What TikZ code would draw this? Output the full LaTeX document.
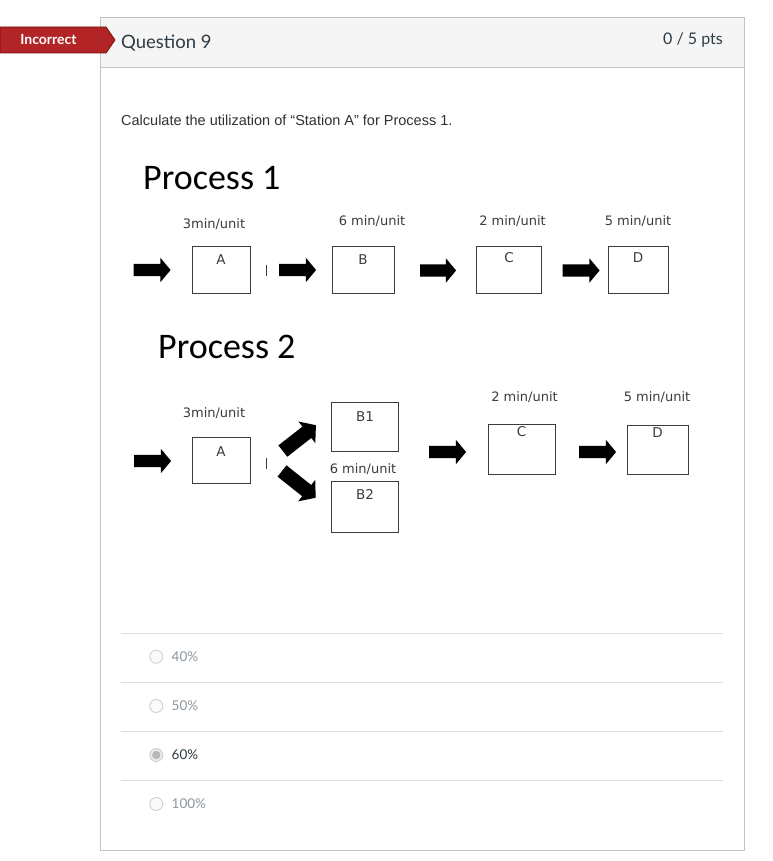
\documentclass[tikz,border=0pt]{standalone}
\usepackage{fontspec}
\setmainfont{Lato}
\newfontfamily\arialf{Liberation Sans}
\newfontfamily\calib{Carlito}
\newfontfamily\dvs{DejaVu Sans}
\usetikzlibrary{shapes.arrows}
\definecolor{tagred}{RGB}{178,36,38}
\definecolor{tagdark}{RGB}{115,18,18}
\definecolor{hdrbg}{RGB}{245,245,245}
\definecolor{panelline}{RGB}{190,196,200}
\definecolor{canvastext}{RGB}{45,59,69}
\definecolor{qtextcol}{RGB}{45,50,55}
\definecolor{sepline}{RGB}{222,222,222}
\definecolor{optgray}{RGB}{140,150,158}
\definecolor{boxline}{RGB}{60,60,60}
\definecolor{lbltext}{RGB}{60,60,60}
\definecolor{radioline}{RGB}{205,205,205}
\definecolor{radiofill}{RGB}{250,250,250}
\definecolor{radiosel}{RGB}{235,235,235}
\definecolor{radiodot}{RGB}{185,185,185}
\tikzset{
  blockarrow/.style={single arrow, fill=black, draw=none, minimum height=#1,
    minimum width=0pt, inner xsep=0pt, inner ysep=6pt,
    single arrow head extend=6pt, single arrow head indent=0pt,
    single arrow tip angle=100},
  diagarrow/.style={blockarrow=#1, inner ysep=7pt, single arrow head extend=6.5pt},
  stationbox/.style={draw=boxline, line width=0.9pt, inner sep=0pt},
  letter/.style={anchor=north, inner sep=0pt, text=lbltext, font=\dvs\fontsize{13.5}{15}\selectfont},
  ratelbl/.style={inner sep=0pt, text=lbltext, font=\dvs\fontsize{13}{15}\selectfont},
  proctitle/.style={anchor=west, inner sep=0pt, font=\calib\fontsize{36}{42}\selectfont},
  tick/.style={draw=boxline, line width=0.8pt},
  sep/.style={draw=sepline, line width=0.9pt},
  radio/.style={circle, draw=radioline, fill=radiofill, line width=0.8pt, minimum size=13pt, inner sep=0pt},
  optlbl/.style={anchor=west, inner sep=0pt, text=optgray, font=\fontsize{13.5}{16}\selectfont},
}
\begin{document}
\begin{tikzpicture}[x=1pt,y=-1pt]
\useasboundingbox (0,0) rectangle (772,861);
\fill[white] (0,0) rectangle (772,861);
% panel
\fill[hdrbg] (100,17) rectangle (744,67);
\draw[panelline, line width=0.9pt] (100,17) rectangle (744,850);
\draw[panelline, line width=0.9pt] (100,67) -- (744,67);
% tag
\draw[tagdark, fill=tagred, line width=0.8pt] (0,27) -- (106,27) -- (115,40) -- (106,53) -- (0,53) -- cycle;
\node[text=white, font=\bfseries\fontsize{14}{16}\selectfont, inner sep=0pt] (tag) at (48.5,39.5) {Incorrect};
\node[anchor=west, inner sep=0pt, text=canvastext, font=\fontsize{18.5}{22}\selectfont] (qtitle) at (121,43) {Question 9};
\node[anchor=east, inner sep=0pt, text=canvastext, font=\fontsize{16}{19}\selectfont] (pts) at (723,40) {0 / 5 pts};
\node[anchor=west, inner sep=0pt, text=qtextcol, font=\arialf\fontsize{14.5}{17}\selectfont] (qtext) at (121,120) {Calculate the utilization of “Station A” for Process 1.};

% Process 1
\node[proctitle] (p1) at (143,178) {Process 1};
\node[ratelbl] (r1a) at (214,224) {3min/unit};
\node[ratelbl] (r1b) at (372,221) {6 min/unit};
\node[ratelbl] (r1c) at (512.5,221) {2 min/unit};
\node[ratelbl] (r1d) at (638,221) {5 min/unit};
\node[stationbox, minimum width=58pt, minimum height=47pt] (a1) at (221,270) {};
\node[stationbox, minimum width=62pt, minimum height=47pt] (b1) at (363,270) {};
\node[stationbox, minimum width=65pt, minimum height=47pt] (c1) at (509,270) {};
\node[stationbox, minimum width=60pt, minimum height=47pt] (d1) at (638,270) {};
\node[letter, yshift=-8.5pt] at (a1.north) {A};
\node[letter, yshift=-8.5pt] at (b1.north) {B};
\node[letter, yshift=-6.5pt] at (c1.north) {C};
\node[letter, yshift=-6.5pt] at (d1.north) {D};
\node[blockarrow=37pt] (ar1) at (149.5,270) {};
\node[blockarrow=37pt] (ar2) at (295,270) {};
\node[blockarrow=36pt] (ar3) at (435.5,270.5) {};
\node[blockarrow=37pt] (ar4) at (578.5,270.5) {};
\coordinate (t1a) at (266,265);
\coordinate (t1b) at (266,276);
\draw[tick] (t1a) -- (t1b);

% Process 2
\node[proctitle] (p2) at (158,347) {Process 2};
\node[ratelbl] (r2a) at (214,413.5) {3min/unit};
\node[ratelbl] (r2b) at (363,469.5) {6 min/unit};
\node[ratelbl] (r2c) at (524.5,397) {2 min/unit};
\node[ratelbl] (r2d) at (657,397) {5 min/unit};
\node[stationbox, minimum width=58pt, minimum height=46pt] (a2) at (221,460) {};
\node[stationbox, minimum width=67pt, minimum height=49pt] (bb1) at (365,427) {};
\node[stationbox, minimum width=67pt, minimum height=51pt] (bb2) at (365,506.5) {};
\node[stationbox, minimum width=67pt, minimum height=50pt] (c2) at (521.5,449) {};
\node[stationbox, minimum width=61pt, minimum height=49pt] (d2) at (657.5,449.5) {};
\node[letter, yshift=-9.5pt] at (a2.north) {A};
\node[letter, yshift=-9pt] at (bb1.north) {B1};
\node[letter, yshift=-8.5pt] at (bb2.north) {B2};
\node[letter, yshift=-3pt] at (c2.north) {C};
\node[letter, yshift=-3pt] at (d2.north) {D};
\node[blockarrow=37pt] (ar5) at (150,461) {};
\node[diagarrow=42pt, rotate=38] (ar6) at (297,440) {};
\node[diagarrow=43pt, rotate=-38.5] (ar7) at (296.5,482.5) {};
\node[blockarrow=37pt] (ar8) at (445,452) {};
\node[blockarrow=37pt] (ar9) at (595,452) {};
\coordinate (t2a) at (266,458);
\coordinate (t2b) at (266,469);
\draw[tick] (t2a) -- (t2b);

% options
\foreach \yy in {633.3,682.3,731.3,780.3} {\draw[sep] (121,\yy) -- (723,\yy);}
\node[radio] (o1) at (156.3,656.7) {};
\node[radio] (o2) at (156.3,706) {};
\node[radio, fill=radiosel] (o3) at (156.3,755) {};
\fill[radiodot] (o3.center) circle[radius=4.2pt];
\node[radio] (o4) at (156.3,804) {};
\node[optlbl] (l1) at (171.5,657) {40\%};
\node[optlbl] (l2) at (171.5,706) {50\%};
\node[optlbl, text=canvastext] (l3) at (171.5,755) {60\%};
\node[optlbl] (l4) at (171.5,804) {100\%};
\end{tikzpicture}
\end{document}
